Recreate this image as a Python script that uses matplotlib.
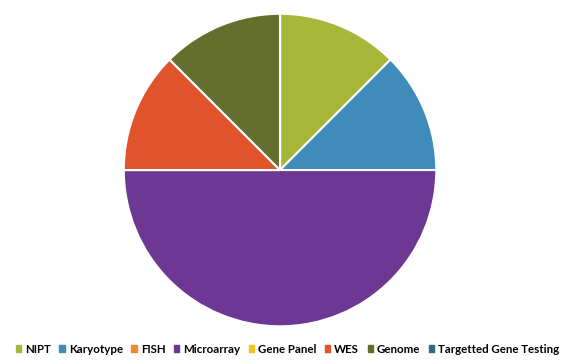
import matplotlib
matplotlib.use("Agg")
import matplotlib.pyplot as plt

# data
labels = ["NIPT", "Karyotype", "FISH", "Microarray", "Gene Panel", "WES", "Genome",
          "Targetted Gene Testing"]
shares = [12.5, 12.5, 0, 50, 0, 12.5, 12.5, 0]
colors = ["#A6B83A", "#3F8CBB", "#F08A30", "#6C3894", "#F5C21B", "#E0532B", "#646F2E",
          "#2C6B86"]

plt.rcParams["font.family"] = ["Lato", "DejaVu Sans"]

fig = plt.figure(figsize=(5.64, 3.61), dpi=100)
ax = fig.add_axes([0.218, 0.094, 0.557, 0.870])

ax.pie(shares, colors=colors, startangle=90, counterclock=False,
       wedgeprops={"edgecolor": "white", "linewidth": 1.5})
ax.set_xlim(-1.005, 1.005)
ax.set_ylim(-1.005, 1.005)
ax.set_aspect("equal")

handles = [plt.Rectangle((0, 0), 1, 1, color=c) for c in colors]
fig.legend(handles, labels, loc="center", bbox_to_anchor=(0.51, 0.033), ncol=8,
           frameon=False, handlelength=0.45, handleheight=0.45,
           handletextpad=0.35, columnspacing=0.75, prop={"weight": "bold", "size": 8.3})

fig.savefig("out.png", dpi=100)
